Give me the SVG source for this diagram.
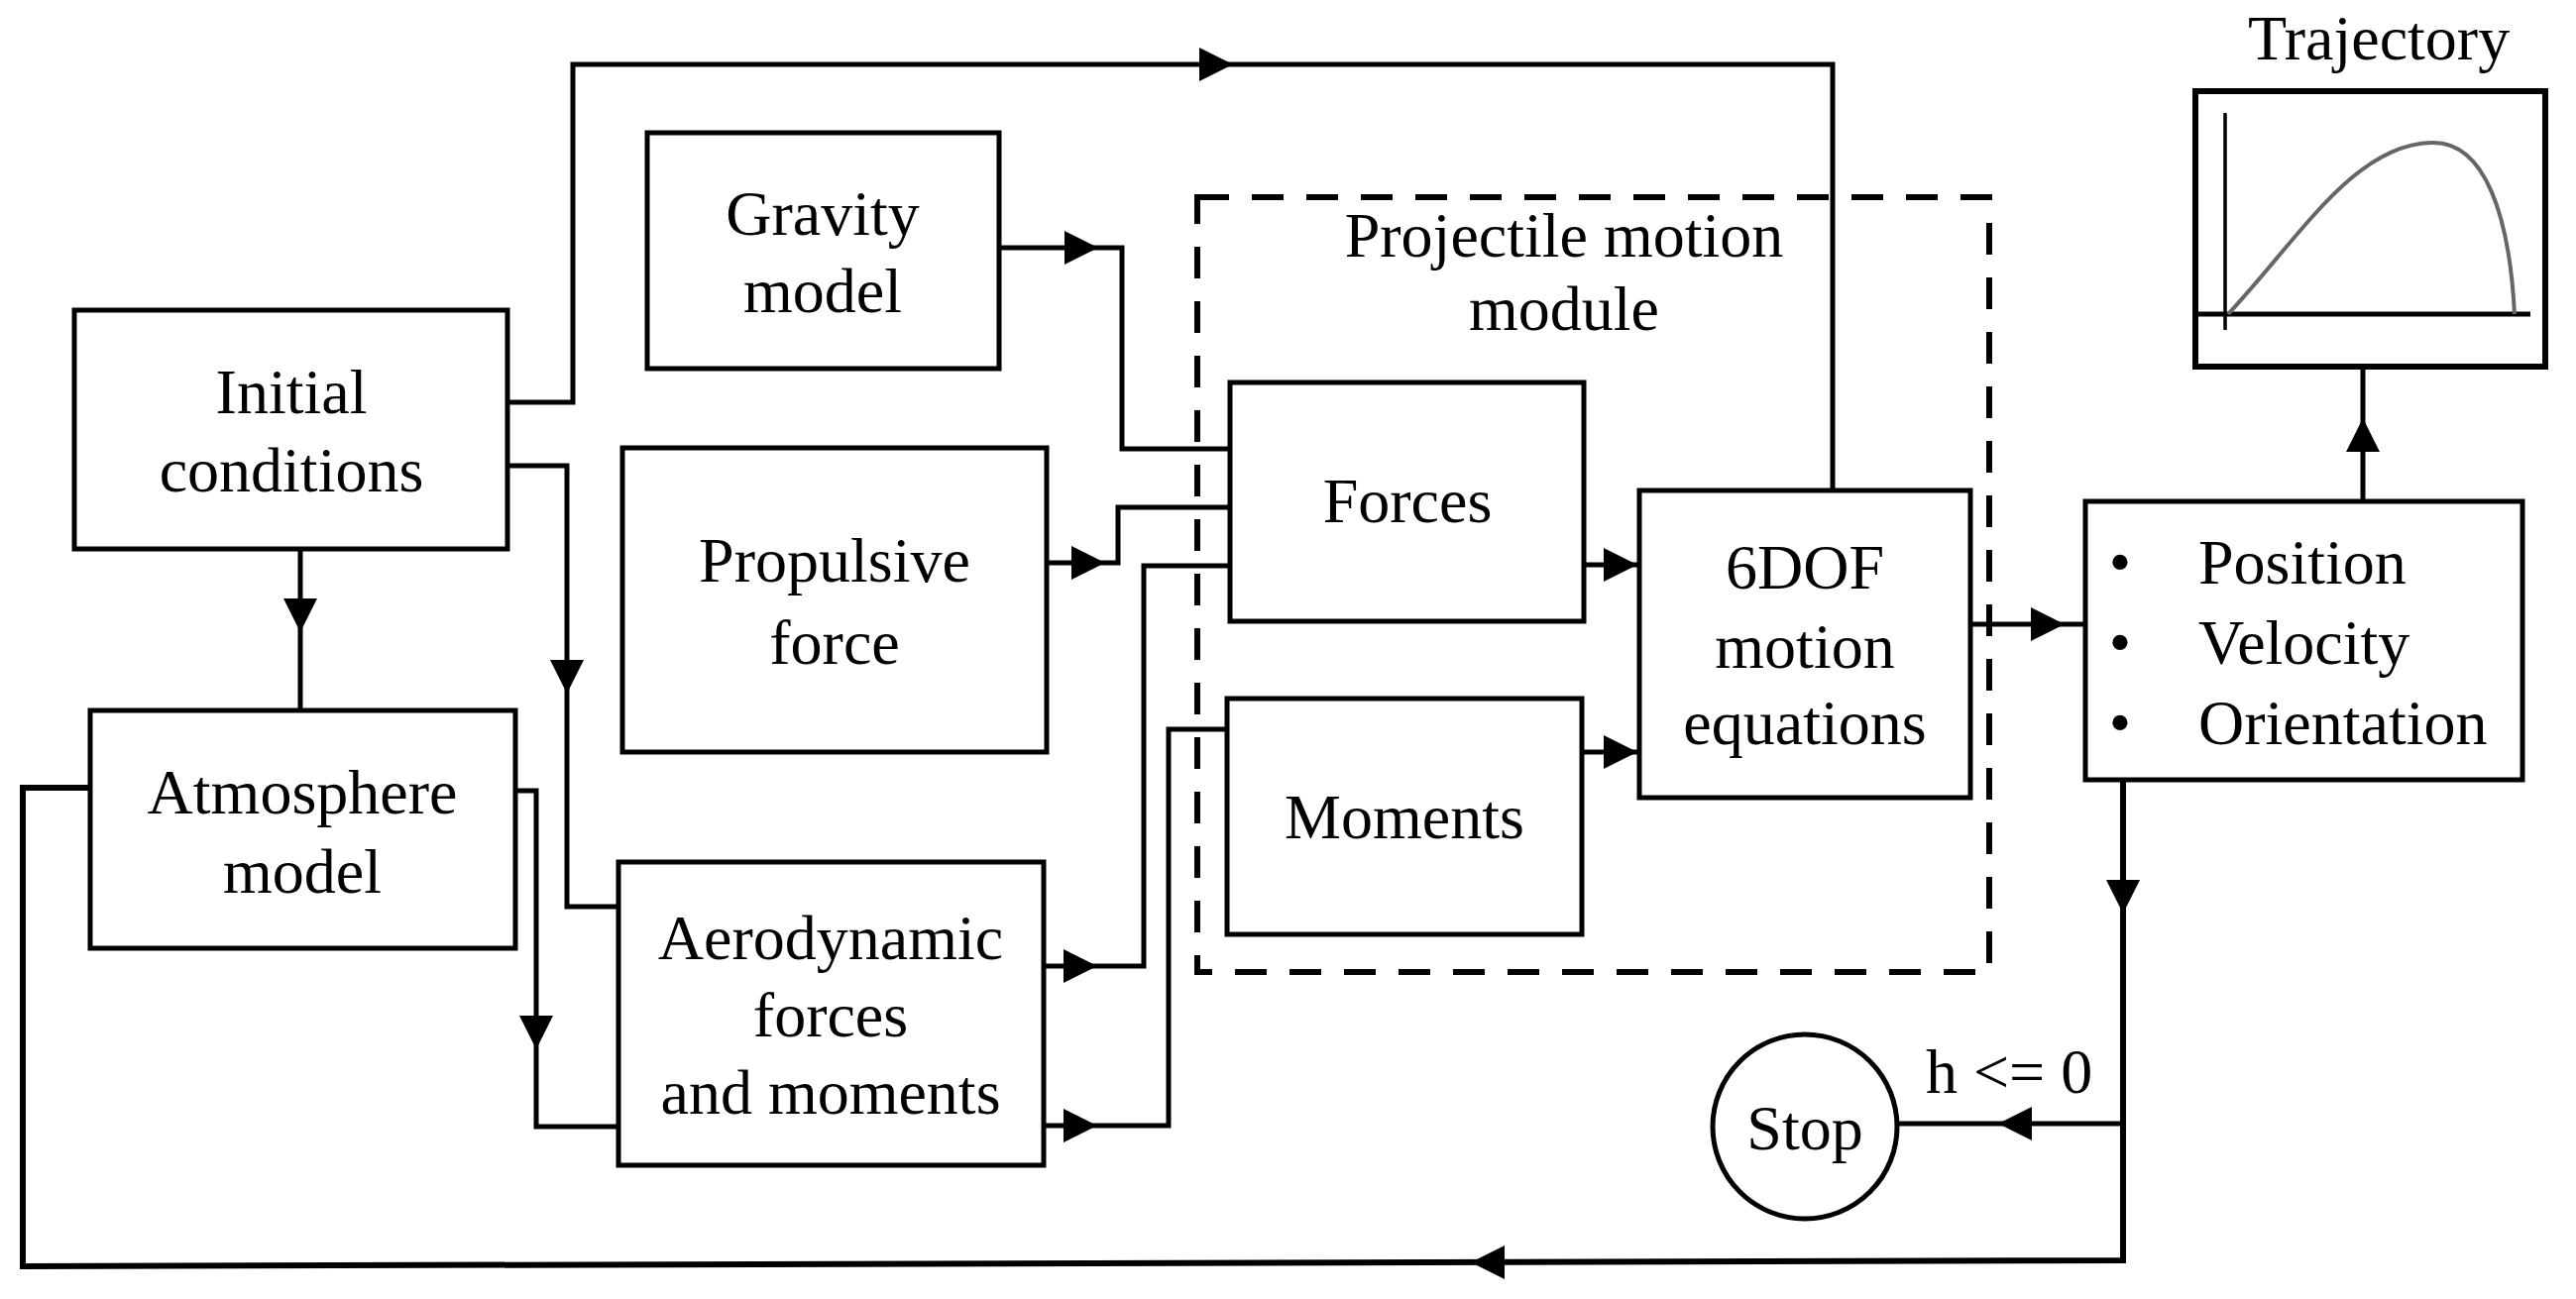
<svg xmlns="http://www.w3.org/2000/svg" xmlns:xlink="http://www.w3.org/1999/xlink" width="2599" height="1311" viewBox="0 0 2599 1311">
<style>
.box{fill:#fff;stroke:#000;stroke-width:5}
.t{font-family:"Liberation Serif","Times New Roman",serif;font-size:64px;fill:#000;text-anchor:middle}
.tl{font-family:"Liberation Serif","Times New Roman",serif;font-size:64px;fill:#000}
.c{fill:none;stroke:#000;stroke-width:5}
.dash{fill:none;stroke:#000;stroke-width:6;stroke-dasharray:32 23}
</style>
<defs>
<path id="ah" d="M0,0 L-34,-17 L-34,17 Z" fill="#000"/>
</defs>
<rect width="2599" height="1311" fill="#fff"/>

<g id="module">
<rect class="dash" x="1208" y="199" width="799" height="782"/>
<text class="t" x="1578" y="259">Projectile motion</text>
<text class="t" x="1578" y="333">module</text>
</g>

<g id="connectors">
<polyline class="c" points="512,406 578,406 578,65 1849,65 1849,495"/>
<polyline class="c" points="1008,250 1132,250 1132,453 1241,453"/>
<polyline class="c" points="1056,568 1128,568 1128,512 1241,512"/>
<polyline class="c" points="1053,975 1154,975 1154,571 1241,571"/>
<polyline class="c" points="1053,1136 1179,1136 1179,736 1238,736"/>
<polyline class="c" points="303,554 303,717"/>
<polyline class="c" points="512,470 572,470 572,915 624,915"/>
<polyline class="c" points="520,798 541,798 541,1137 624,1137"/>
<polyline class="c" points="1598,570 1654,570"/>
<polyline class="c" points="1596,759 1654,759"/>
<polyline class="c" points="1988,630 2104,630"/>
<polyline class="c" points="2384,506 2384,370"/>
<polyline class="c" points="2142,787 2142,1272 23,1278 23,795 91,795" style="stroke-width:6"/>
<polyline class="c" points="2142,1134 1915,1134"/>
<use xlink:href="#ah" transform="translate(1244,65)"/>
<use xlink:href="#ah" transform="translate(1108,250)"/>
<use xlink:href="#ah" transform="translate(1115,568)"/>
<use xlink:href="#ah" transform="translate(1107,975)"/>
<use xlink:href="#ah" transform="translate(1107,1136)"/>
<use xlink:href="#ah" transform="translate(303,638) rotate(90)"/>
<use xlink:href="#ah" transform="translate(572,700) rotate(90)"/>
<use xlink:href="#ah" transform="translate(541,1059) rotate(90)"/>
<use xlink:href="#ah" transform="translate(1652,570)"/>
<use xlink:href="#ah" transform="translate(1652,759)"/>
<use xlink:href="#ah" transform="translate(2083,630)"/>
<use xlink:href="#ah" transform="translate(2384,422) rotate(-90)"/>
<use xlink:href="#ah" transform="translate(2142,922) rotate(90)"/>
<use xlink:href="#ah" transform="translate(2016,1134) rotate(180)"/>
<use xlink:href="#ah" transform="translate(1484,1274) rotate(180)"/>
<text class="tl" x="1943" y="1103">h &lt;= 0</text>
</g>

<g id="initial">
<rect class="box" x="75" y="313" width="437" height="241"/>
<text class="t" x="294" y="417">Initial</text>
<text class="t" x="294" y="496">conditions</text>
</g>

<g id="gravity">
<rect class="box" x="653" y="134" width="355" height="238"/>
<text class="t" x="830" y="237">Gravity</text>
<text class="t" x="830" y="315">model</text>
</g>

<g id="propulsive">
<rect class="box" x="628" y="452" width="428" height="307"/>
<text class="t" x="842" y="587">Propulsive</text>
<text class="t" x="842" y="670">force</text>
</g>

<g id="atmosphere">
<rect class="box" x="91" y="717" width="429" height="240"/>
<text class="t" x="305" y="821">Atmosphere</text>
<text class="t" x="305" y="901">model</text>
</g>

<g id="aero">
<rect class="box" x="624" y="870" width="429" height="306"/>
<text class="t" x="838" y="968">Aerodynamic</text>
<text class="t" x="838" y="1046">forces</text>
<text class="t" x="838" y="1124">and moments</text>
</g>

<g id="forces">
<rect class="box" x="1241" y="386" width="357" height="241"/>
<text class="t" x="1420" y="527">Forces</text>
</g>

<g id="moments">
<rect class="box" x="1238" y="705" width="358" height="238"/>
<text class="t" x="1417" y="846">Moments</text>
</g>

<g id="sixdof">
<rect class="box" x="1654" y="495" width="334" height="310"/>
<text class="t" x="1821" y="594">6DOF</text>
<text class="t" x="1821" y="674">motion</text>
<text class="t" x="1821" y="751">equations</text>
</g>

<g id="state">
<rect class="box" x="2104" y="506" width="441" height="281"/>
<text class="t" x="2139" y="589">•</text>
<text class="t" x="2139" y="670">•</text>
<text class="t" x="2139" y="751">•</text>
<text class="tl" x="2218" y="589">Position</text>
<text class="tl" x="2218" y="670">Velocity</text>
<text class="tl" x="2218" y="751">Orientation</text>
</g>

<g id="trajectory">
<text class="t" x="2400" y="60">Trajectory</text>
<rect class="box" x="2215" y="92" width="353" height="278" style="stroke-width:6"/>
<line x1="2245" y1="114" x2="2245" y2="333" stroke="#000" stroke-width="3.5"/>
<line x1="2216" y1="317" x2="2553" y2="317" stroke="#000" stroke-width="5"/>
<path d="M2248,317 C2320,240 2375,146 2453,144 C2508,142 2532,220 2537,317" fill="none" stroke="#666" stroke-width="4"/>
</g>

<g id="stop">
<circle cx="1821" cy="1137" r="93" fill="#fff" stroke="#000" stroke-width="5"/>
<text class="t" x="1821" y="1160">Stop</text>
</g>
</svg>
